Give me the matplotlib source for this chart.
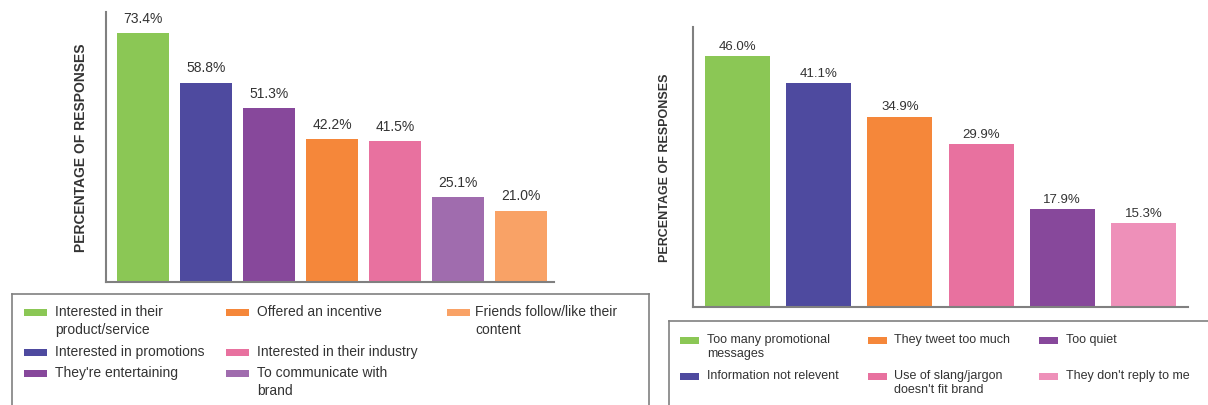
import matplotlib
matplotlib.use("Agg")
import matplotlib.pyplot as plt
from matplotlib.patches import Rectangle

plt.rcParams['font.family'] = ['Liberation Sans', 'DejaVu Sans']

# Reasons to follow a brand
follow_labels = ["Interested in their\nproduct/service", "Interested in promotions",
                 "They're entertaining", "Offered an incentive",
                 "Interested in their industry", "To communicate with\nbrand",
                 "Friends follow/like their\ncontent"]
follow_values = [73.4, 58.8, 51.3, 42.2, 41.5, 25.1, 21.0]
follow_colors = ["#8BC755", "#4E4A9F", "#87489B", "#F5873A",
                 "#E8719F", "#A06CAE", "#F9A266"]

# Reasons to unfollow a brand
unfollow_labels = ["Too many promotional\nmessages", "Information not relevent",
                   "They tweet too much", "Use of slang/jargon\ndoesn't fit brand",
                   "Too quiet", "They don't reply to me"]
unfollow_values = [46.0, 41.1, 34.9, 29.9, 17.9, 15.3]
unfollow_colors = ["#8BC755", "#4E4A9F", "#F5873A", "#E8719F",
                   "#87489B", "#EE90B9"]

W, H = 1208, 406
fig = plt.figure(figsize=(W / 100, H / 100), dpi=100)
TXT = "#333333"
AXC = "#808080"


def px_axes(x0, y0, x1, y1):
    # pixel box (top-left origin) -> figure axes
    return fig.add_axes([x0 / W, 1 - y1 / H, (x1 - x0) / W, (y1 - y0) / H])


def bar_panel(ax, values, colors, width, ymax, xlim, fs, pad, ylab_fs, ylab_x):
    x = range(len(values))
    bars = ax.bar(x, values, width=width, color=colors)
    for b, v in zip(bars, values):
        ax.annotate(f"{v:.1f}%", (b.get_x() + b.get_width() / 2, v),
                    xytext=(0, pad), textcoords="offset points",
                    ha="center", va="bottom", fontsize=fs, color=TXT)
    ax.set_ylim(0, ymax)
    ax.set_xlim(*xlim)
    ax.set_xticks([])
    ax.set_yticks([])
    for s in ("top", "right"):
        ax.spines[s].set_visible(False)
    for s in ("left", "bottom"):
        ax.spines[s].set_color(AXC)
        ax.spines[s].set_linewidth(1.5)
    ax.set_ylabel("PERCENTAGE OF RESPONSES", fontsize=ylab_fs,
                  fontweight="bold", color=TXT)
    ax.yaxis.set_label_coords(ylab_x, 0.5)
    ax.patch.set_alpha(0)


def legend_box(x0, y0, x1, y1, labels, colors, handles, texts, rows,
               fs, spacing, hw, hh):
    lax = px_axes(x0, y0, x1, y1)
    lax.set_xlim(x0, x1)
    lax.set_ylim(y1, y0)
    lax.set_xticks([])
    lax.set_yticks([])
    for s in lax.spines.values():
        s.set_color(AXC)
        s.set_linewidth(1.2)
    ncol = len(handles)
    nrow = len(rows)
    top_off = 0.55 * fs * 100 / 72
    for i, (lab, col) in enumerate(zip(labels, colors)):
        c, r = divmod(i, nrow)
        if c >= ncol:
            break
        y = rows[r]
        lax.add_patch(Rectangle((handles[c], y - hh / 2), hw, hh,
                                color=col, lw=0))
        lax.text(texts[c], y - top_off, lab, fontsize=fs, color=TXT,
                 ha="left", va="top", linespacing=spacing)
    return lax


# left panel
ax1 = px_axes(106, 13, 554, 283)
bar_panel(ax1, follow_values, follow_colors, 0.82, 79.6, (-0.59, 6.52),
          10, 6, 10, -0.04)

# right panel
ax2 = px_axes(693, 28, 1188, 308)
bar_panel(ax2, unfollow_values, unfollow_colors, 0.8, 51.3, (-0.55, 5.55),
          9.5, 3, 9, -0.045)

# legends: rows are the centres of each entry's first text line
legend_box(12, 295, 649, 425, follow_labels, follow_colors,
           handles=[24, 226, 447], texts=[55, 257, 475],
           rows=[313, 353, 374], fs=10, spacing=1.3, hw=23, hh=7)

legend_box(669, 322, 1215, 425, unfollow_labels, unfollow_colors,
           handles=[680, 868, 1039], texts=[707, 894, 1066],
           rows=[341, 377], fs=9, spacing=1.25, hw=19, hh=7)

fig.savefig("out.png", dpi=100)
